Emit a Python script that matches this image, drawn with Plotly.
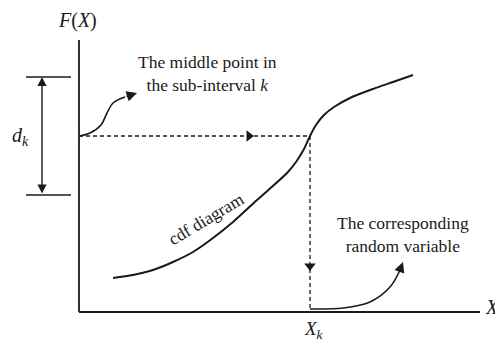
import plotly.graph_objects as go

# ---- data (diagram units: origin at the axes' corner) ----
cdf_x = [0.34, 0.54, 0.74, 0.94, 1.14, 1.34, 1.54, 1.78, 2.08, 2.17, 2.25, 2.31, 2.37, 2.45, 2.55, 2.71, 2.94, 3.14, 3.34]
cdf_y = [0.34, 0.37, 0.42, 0.50, 0.60, 0.74, 0.90, 1.12, 1.39, 1.50, 1.63, 1.76, 1.87, 1.97, 2.05, 2.14, 2.23, 2.30, 2.37]
x_k = 2.31
f_mid = 1.76
dk_top = 2.35
dk_bottom = 1.17
axis_x_end = 4.01
axis_y_end = 2.72

curve1_x = [0.0, 0.11, 0.22, 0.28, 0.34, 0.46]
curve1_y = [1.76, 1.79, 1.87, 1.99, 2.09, 2.15]
curve1_tip = (0.58, 2.19)
curve2_x = [2.31, 2.64, 2.91, 3.11, 3.21]
curve2_y = [0.03, 0.04, 0.10, 0.25, 0.42]
curve2_tip = (3.24, 0.50)

ink = "#1a1a1a"
font = "Liberation Serif, Times New Roman, serif"

fig = go.Figure()

def line(xs, ys, width=1.6, dash=None, smooth=0.0):
    fig.add_trace(go.Scatter(x=xs, y=ys, mode="lines", hoverinfo="skip",
                             line=dict(color=ink, width=width, dash=dash,
                                       shape="spline" if smooth else "linear",
                                       smoothing=smooth if smooth else None),
                             showlegend=False))

# axes
line([0, 0], [0, axis_y_end], width=1.8)
line([0, axis_x_end], [0, 0], width=1.8)
# cdf
line(cdf_x, cdf_y, width=2, smooth=0.8)
# dashed guides
line([0, x_k], [f_mid, f_mid], width=1.3, dash="4px,3px")
line([x_k, x_k], [f_mid, 0], width=1.3, dash="4px,3px")
# d_k bracket
line([-0.53, -0.08], [dk_top, dk_top], width=1.3)
line([-0.53, -0.08], [dk_bottom, dk_bottom], width=1.3)
# curved pointer lines
line(curve1_x, curve1_y, width=1.6, smooth=1.0)
line(curve2_x, curve2_y, width=1.6, smooth=1.0)

# mid-line arrowheads
fig.add_trace(go.Scatter(x=[1.70], y=[f_mid], mode="markers", hoverinfo="skip", showlegend=False,
                         marker=dict(symbol="triangle-right", size=10, color=ink)))
fig.add_trace(go.Scatter(x=[x_k], y=[0.46], mode="markers", hoverinfo="skip", showlegend=False,
                         marker=dict(symbol="triangle-down", size=10, color=ink)))

ann = []
# double arrow for d_k
ann.append(dict(x=-0.37, y=dk_top, ax=-0.37, ay=dk_bottom, xref="x", yref="y", axref="x", ayref="y",
                showarrow=True, arrowhead=2, arrowsize=1.3, arrowwidth=1.4, arrowcolor=ink,
                arrowside="end+start", text=""))
# arrow tips of curved pointers
ann.append(dict(x=curve1_tip[0], y=curve1_tip[1], ax=curve1_x[-1], ay=curve1_y[-1],
                xref="x", yref="y", axref="x", ayref="y", showarrow=True, arrowhead=2,
                arrowsize=1.3, arrowwidth=1.6, arrowcolor=ink, text=""))
ann.append(dict(x=curve2_tip[0], y=curve2_tip[1], ax=curve2_x[-1], ay=curve2_y[-1],
                xref="x", yref="y", axref="x", ayref="y", showarrow=True, arrowhead=2,
                arrowsize=1.3, arrowwidth=1.6, arrowcolor=ink, text=""))

def label(x, y, text, size=15, angle=0, xanchor="center"):
    ann.append(dict(x=x, y=y, xref="x", yref="y", text=text, showarrow=False, textangle=angle,
                    xanchor=xanchor, font=dict(family=font, size=size, color=ink)))

label(-0.02, 2.92, "<i>F</i>(<i>X</i>)", size=20)
label(-0.59, 1.76, "<i>d<sub>k</sub></i>", size=20)
label(1.28, 2.39, "The middle point in<br>the sub-interval <i>k</i>", size=17.5)
label(3.24, 0.78, "The corresponding<br>random variable", size=17.5)
label(2.35, -0.18, "<i>X<sub>k</sub></i>", size=19)
label(4.04, 0.05, "<i>X</i>", size=20, xanchor="left")
label(1.27, 0.93, "cdf diagram", size=17.5, angle=-31)

fig.update_layout(
    annotations=ann,
    width=495, height=342,
    margin=dict(l=0, r=0, t=0, b=0),
    paper_bgcolor="white", plot_bgcolor="white",
    xaxis=dict(range=[-0.79, 4.16], visible=False, fixedrange=True),
    yaxis=dict(range=[-0.30, 3.12], visible=False, fixedrange=True),
)

fig.write_html("out.html", config={"displayModeBar": False, "staticPlot": True})

# remove the browser's default page margin so the figure sits at the window's corner
with open("out.html", encoding="utf-8") as f:
    html = f.read()
html = html.replace("<head>", "<head><style>html,body{margin:0;padding:0;overflow:hidden}</style>", 1)
with open("out.html", "w", encoding="utf-8") as f:
    f.write(html)
